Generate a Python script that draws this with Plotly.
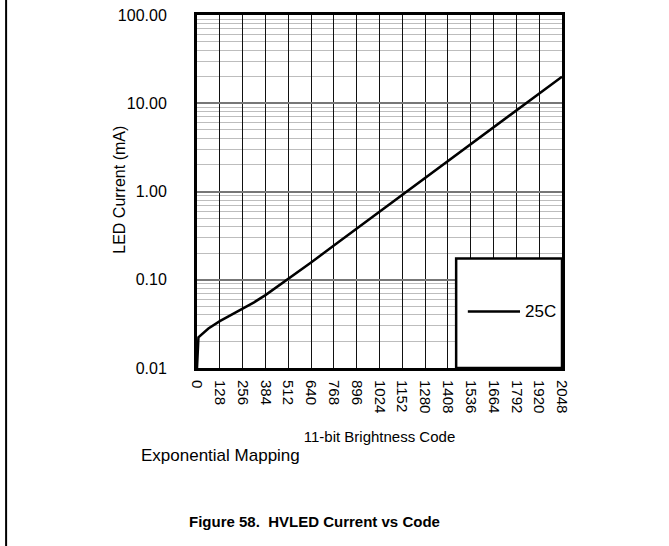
import plotly.graph_objects as go

# data
code = [0, 0, 8, 64, 128, 192, 256, 320, 384, 448, 512, 640, 768, 896,
        1024, 1152, 1280, 1408, 1536, 1664, 1792, 1920, 2048]
current_25c = [0.0100, 0.0100, 0.0222, 0.0280, 0.0340, 0.0400, 0.0470, 0.0555, 0.0670,
               0.0830, 0.1010, 0.157, 0.244, 0.379, 0.589, 0.915, 1.42,
               2.21, 3.44, 5.34, 8.30, 12.9, 20.0]
series_name = "25C"

x_ticks = list(range(0, 2049, 128))
y_ticks = [0.01, 0.1, 1, 10, 100]
y_labels = ["0.01", "0.10", "1.00", "10.00", "100.00"]

FONT = "Arial, Liberation Sans, sans-serif"

fig = go.Figure()
fig.add_trace(go.Scatter(
    x=code, y=current_25c, name=series_name, mode="lines",
    line=dict(color="#000000", width=2.5), showlegend=False,
))

fig.update_layout(
    width=669, height=546,
    margin=dict(l=197, r=107, t=15, b=177.5),
    paper_bgcolor="#ffffff",
    plot_bgcolor="#ffffff",
    font=dict(family=FONT, size=15, color="#000000"),
)

fig.update_xaxes(
    range=[0, 2048], automargin=False,
    tickmode="array", tickvals=x_ticks, ticktext=[str(v) for v in x_ticks],
    tickangle=90,
    showgrid=True, gridcolor="#111111", gridwidth=1,
    zeroline=False,
    showline=True, linecolor="#000000", linewidth=3, mirror=True,
    ticks="", ticklabelstandoff=6,
    title=dict(text="11-bit Brightness Code", font=dict(size=15), standoff=20),
)

fig.update_yaxes(
    type="log", range=[-2, 2], automargin=False,
    tickmode="array", tickvals=y_ticks, ticktext=y_labels,
    tickfont=dict(size=16),
    showgrid=True, gridcolor="#777777", gridwidth=1.5,
    minor=dict(showgrid=True, gridcolor="#bdbdbd", gridwidth=1, dtick="D1"),
    zeroline=False,
    showline=True, linecolor="#000000", linewidth=3, mirror=True,
    ticks="", ticklabelstandoff=24,
)

# y title as an annotation so it can sit closer than the widest tick label allows
fig.add_annotation(text="LED Current (mA)", xref="paper", yref="paper",
                   x=-0.211, y=0.505, textangle=-90,
                   xanchor="center", yanchor="middle",
                   showarrow=False, font=dict(size=16))

# legend box drawn by hand so it can match the framed box of the original
fig.add_shape(type="rect", xref="paper", yref="paper",
              x0=0.71, x1=1.0, y0=0.0, y1=0.31,
              fillcolor="#ffffff", line=dict(color="#000000", width=2.5), layer="above")
fig.add_shape(type="line", xref="paper", yref="paper",
              x0=0.742, x1=0.885, y0=0.16, y1=0.16,
              line=dict(color="#000000", width=2.5), layer="above")
fig.add_annotation(text=series_name, xref="paper", yref="paper",
                   x=0.893, y=0.16, xanchor="left", yanchor="middle",
                   showarrow=False, font=dict(size=17))

# page border on the left
fig.add_shape(type="line", xref="paper", yref="paper",
              x0=-0.523, x1=-0.523, y0=-0.51, y1=1.05,
              line=dict(color="#000000", width=2))

fig.add_annotation(text="Exponential Mapping", xref="paper", yref="paper",
                   x=-0.158, y=-0.2475, xanchor="left", yanchor="middle",
                   showarrow=False, font=dict(size=17))
fig.add_annotation(text="<b>Figure 58.  HVLED Current vs Code</b>", xref="paper", yref="paper",
                   x=0.323, y=-0.434, xanchor="center", yanchor="middle",
                   showarrow=False, font=dict(size=15))

# drop the default body margin so the figure sits at the window's corner
fig.write_html("out.html", config={"displayModeBar": False},
               post_script="document.body.style.margin='0';")
